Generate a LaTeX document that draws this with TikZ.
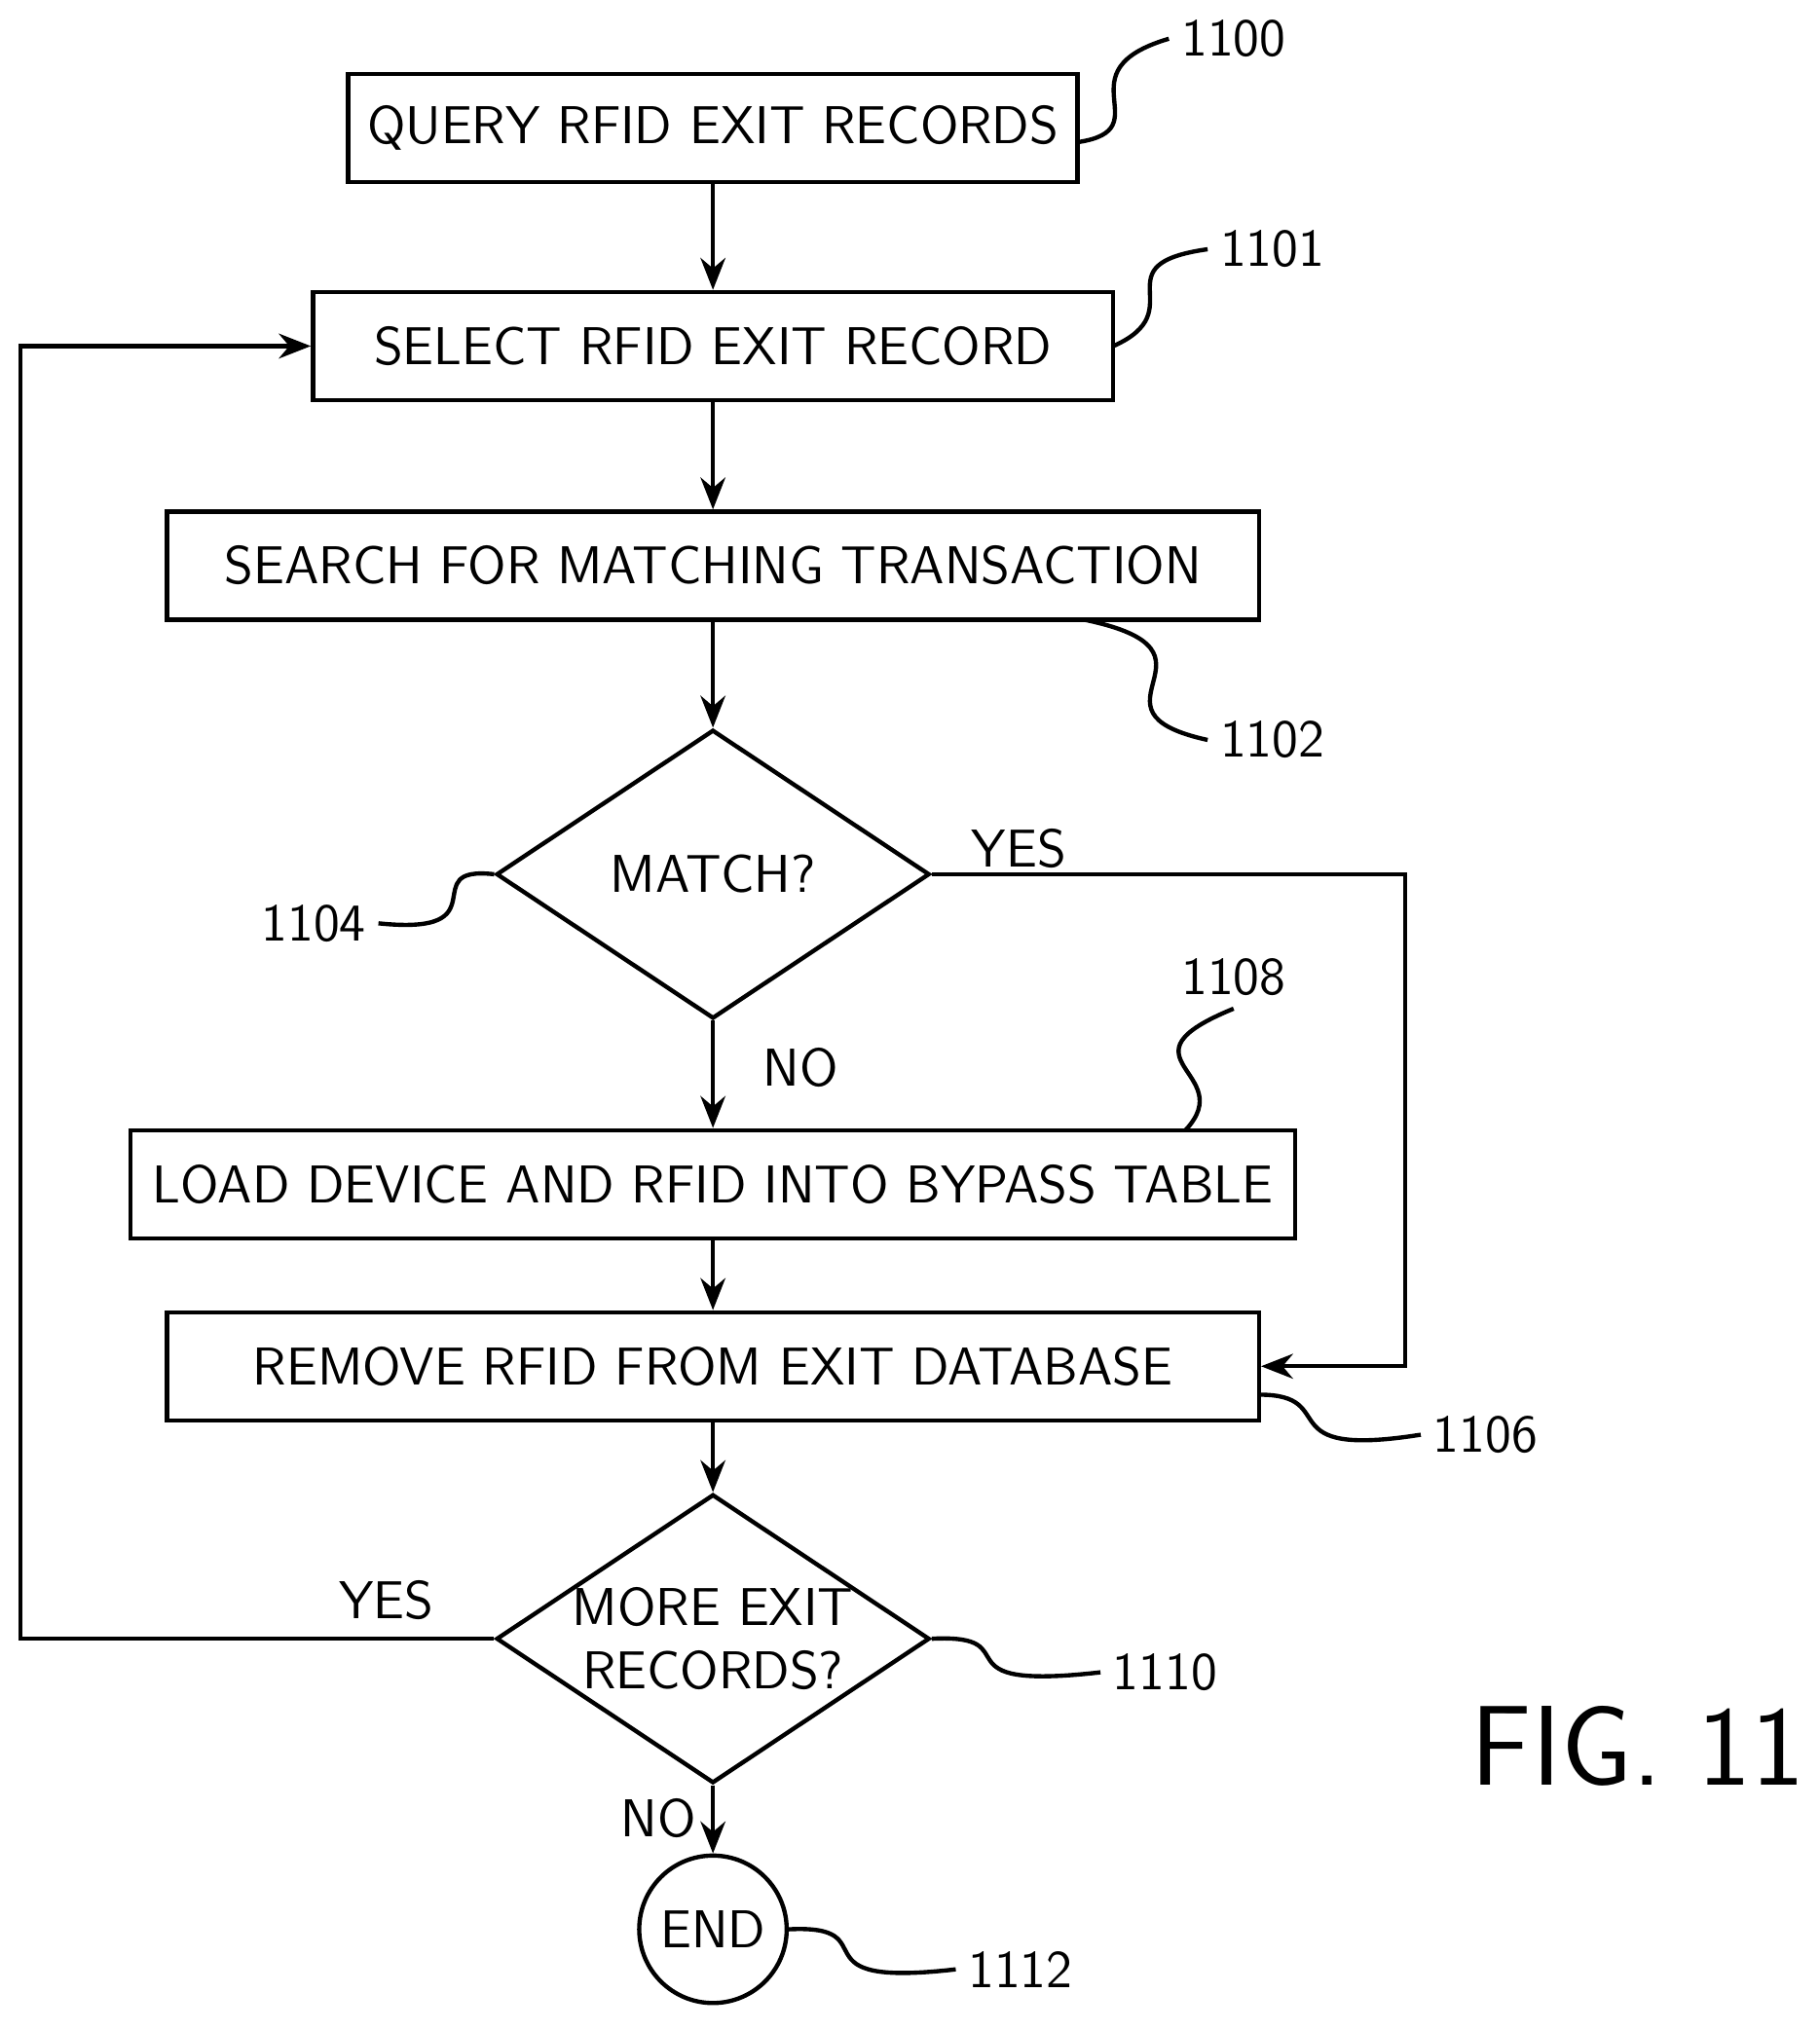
\documentclass[tikz,border=0pt]{standalone}
\usepackage{tikz}
\usetikzlibrary{shapes.geometric,arrows.meta,calc}

\begin{document}
\begin{tikzpicture}[x=0.01278cm,y=-0.01278cm,
  font=\fontsize{15}{18}\selectfont\sffamily]
\tikzstyle{procBox} = [
  shape=rectangle,
  draw, line width=1.2pt,
  minimum height=1.07cm,
  inner sep=2pt
]
\tikzstyle{testBox} = [
  shape=diamond,
  draw, line width=1.2pt,
  minimum width=4.29cm,
  minimum height=2.86cm,
  inner sep=0pt
]
\tikzstyle{flow} = [
  draw, line width=1.2pt,
  -{Stealth[length=9pt,width=7pt]}
]
\tikzstyle{leader} = [
  draw, line width=1.2pt
]

\useasboundingbox (0,0) rectangle (1409,1572);

\node[procBox, minimum width=7.22cm] (query) at (552,99) {QUERY RFID EXIT RECORDS};
\node[procBox, minimum width=7.92cm] (select) at (552,268) {SELECT RFID EXIT RECORD};
\node[procBox, minimum width=10.81cm] (search) at (552,438) {SEARCH FOR MATCHING TRANSACTION};
\node[testBox] (match) at (552,677) {MATCH?};
\node[procBox, minimum width=11.53cm] (load) at (552,917) {LOAD DEVICE AND RFID INTO BYPASS TABLE};
\node[procBox, minimum width=10.81cm] (remove) at (552,1058) {REMOVE RFID FROM EXIT DATABASE};
\node[testBox, label={[align=center]center:MORE EXIT\\RECORDS?}] (more) at (552,1269) {};
\node[circle, draw, line width=1.2pt, minimum size=1.46cm, inner sep=0pt] (end) at (552,1494) {END};

\coordinate (loopB) at (16,1269);
\coordinate (loopT) at (16,268);
\coordinate (yesR) at (1088,677);
\coordinate (yesB) at (1088,1058);

\draw[flow] (query) -- (select);
\draw[flow] (select) -- (search);
\draw[flow] (search) -- (match);
\draw[flow] (match) -- (load);
\draw[flow] (load) -- (remove);
\draw[flow] (remove) -- (more);
\draw[flow] (more) -- (end);
\draw[flow] (match.east) -- (yesR) -- (yesB) -- (remove.east);
\draw[flow] (more.west) -- (loopB) -- (loopT) -- (select.west);

\node (yes1) at (789,657) {YES};
\node (no1) at (620,827) {NO};
\node (yes2) at (299,1239) {YES};
\node (no2) at (510,1408) {NO};

% reference numerals
\node[anchor=west] (r1100) at (905,30) {1100};
\node[anchor=west] (r1101) at (935,193) {1101};
\node[anchor=west] (r1102) at (935,573) {1102};
\node[anchor=east] (r1104) at (293,715) {1104};
\node[anchor=west] (r1108) at (905,757) {1108};
\node[anchor=west] (r1106) at (1100,1111) {1106};
\node[anchor=west] (r1110) at (852,1295) {1110};
\node[anchor=west] (r1112) at (740,1525) {1112};

\draw[leader] (835,110) .. controls (900,100) and (820,55) .. (r1100.west);
\draw[leader] (862,268) .. controls (925,240) and (850,205) .. (r1101.west);
\draw[leader] (840,480) .. controls (960,505) and (830,550) .. (r1102.west);
\draw[leader] (match.west) .. controls (320,670) and (390,725) .. (r1104.east);
\draw[leader] (918,875) .. controls (960,830) and (860,820) .. (r1108.south);
\draw[leader] (975,1080) .. controls (1040,1080) and (980,1130) .. (r1106.west);
\draw[leader] (more.east) .. controls (800,1265) and (720,1310) .. (r1110.west);
\draw[leader] (end.east) .. controls (690,1490) and (610,1540) .. (r1112.west);

\node (fig) at (1268,1352) {\fontsize{32}{38}\selectfont FIG. 11};
\end{tikzpicture}
\end{document}
